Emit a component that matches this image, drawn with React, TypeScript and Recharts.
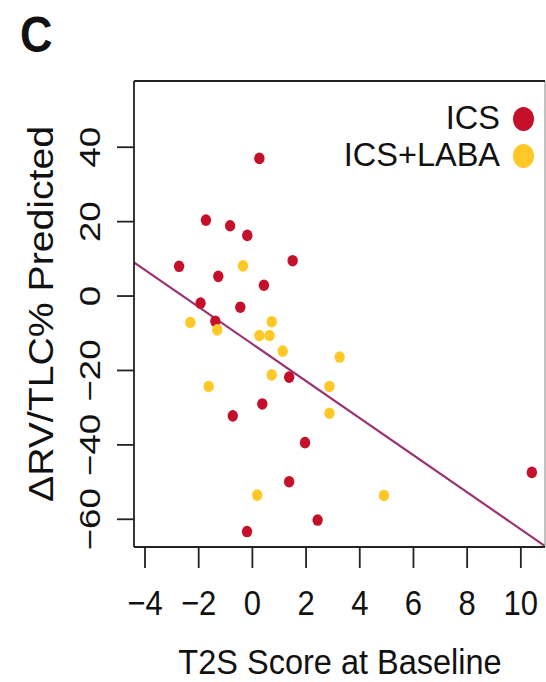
import React from 'react';
import {
  ScatterChart,
  Scatter,
  XAxis,
  YAxis,
  ReferenceLine,
  Legend,
} from 'recharts';

// T2S score at baseline vs change in RV/TLC % predicted
const icsX = [0.26, -1.73, -0.83, -0.19, -2.73, 1.5, -1.27, 0.43, -1.93, -0.45, -1.38, 1.37, 0.37, -0.73, 1.96, 1.37, 2.43, -0.2, 10.41];
const icsY = [37.0, 20.4, 18.9, 16.3, 8.0, 9.5, 5.3, 2.9, -1.9, -3.0, -6.8, -21.8, -29.0, -32.2, -39.4, -49.9, -60.2, -63.3, -47.4];

const labaX = [-0.35, -2.31, -1.31, 0.72, 0.26, 0.64, 1.13, 3.25, 0.72, -1.63, 2.87, 2.87, 0.18, 4.9];
const labaY = [8.1, -7.1, -9.1, -6.9, -10.6, -10.6, -14.8, -16.4, -21.2, -24.3, -24.3, -31.5, -53.5, -53.6];

const xTicks = [-4, -2, 0, 2, 4, 6, 8, 10];
const yTicks = [-60, -40, -20, 0, 20, 40];

// fitted regression line
const fitIntercept = -12.9;
const fitSlope = -4.98;

const xDomain: [number, number] = [-4.41, 10.9];
const yDomain: [number, number] = [-67.45, 57.8];

const icsData = icsX.map((x, i) => ({ x, y: icsY[i] }));
const labaData = labaX.map((x, i) => ({ x, y: labaY[i] }));

const RED = '#C5102A';
const YELLOW = '#FFC826';
const FONT = '"Liberation Sans", Arial, sans-serif';

const fmt = (v: number) => (v < 0 ? `\u2212${Math.abs(v)}` : `${v}`);

const YTick = ({ x, y, payload }: any) => (
  <text
    transform={`translate(${x},${y}) scale(1,1.22) rotate(-90)`}
    textAnchor="middle"
    fontSize={30}
    fontFamily={FONT}
    fill="#111"
  >
    {fmt(payload.value)}
  </text>
);

const XTick = ({ x, y, payload }: any) => (
  <text
    transform={`translate(${x},${y}) scale(1,1.12)`}
    textAnchor="middle"
    fontSize={31}
    fontFamily={FONT}
    fill="#111"
  >
    {fmt(payload.value)}
  </text>
);

const Dot = (color: string) => (p: any) => (
  <ellipse cx={p.cx} cy={p.cy} rx={5.2} ry={5.8} fill={color} />
);

const LegendBox = ({ payload }: any) => (
  <div style={{ fontFamily: FONT }}>
    {(payload || []).map((e: any) => (
      <div
        key={e.value}
        style={{ display: 'flex', alignItems: 'center', justifyContent: 'flex-end', height: 37 }}
      >
        <span style={{ fontSize: 32.5, lineHeight: '37px', color: '#111' }}>{e.value}</span>
        <span
          style={{
            display: 'inline-block',
            width: 21,
            height: 24,
            borderRadius: '50%',
            background: e.color,
            marginLeft: 13,
          }}
        />
      </div>
    ))}
  </div>
);

export default function App() {
  const left = xDomain[0];
  const right = xDomain[1];
  return (
    <div style={{ position: 'absolute', left: 0, top: 0, width: 546, height: 682, background: '#fff' }}>
      <ScatterChart width={546} height={682} margin={{ top: 81, right: 1, bottom: 0, left: 0 }}>
        <XAxis
          type="number"
          dataKey="x"
          domain={xDomain}
          ticks={xTicks}
          allowDataOverflow
          height={135}
          axisLine={false}
          tickSize={21}
          tickMargin={47}
          tickLine={{ stroke: '#222', strokeWidth: 1.8 }}
          tick={<XTick />}
          interval={0}
        />
        <YAxis
          type="number"
          dataKey="y"
          domain={yDomain}
          ticks={yTicks}
          allowDataOverflow
          width={134}
          axisLine={false}
          tickSize={17}
          tickMargin={17}
          tickLine={{ stroke: '#222', strokeWidth: 1.8 }}
          tick={<YTick />}
          interval={0}
        />
        <Scatter name="ICS" data={icsData} fill={RED} shape={Dot(RED)} isAnimationActive={false} />
        <Scatter name="ICS+LABA" data={labaData} fill={YELLOW} shape={Dot(YELLOW)} isAnimationActive={false} />
        <ReferenceLine
          segment={[
            { x: left, y: fitIntercept + fitSlope * left },
            { x: right, y: fitIntercept + fitSlope * right },
          ]}
          stroke="#9B3372"
          strokeWidth={2.2}
          ifOverflow="hidden"
        />
        <ReferenceLine x={left} stroke="#222" strokeWidth={1.8} />
        <ReferenceLine x={right} stroke="#999" strokeWidth={1.2} />
        <ReferenceLine y={yDomain[0]} stroke="#222" strokeWidth={1.8} />
        <ReferenceLine y={yDomain[1]} stroke="#222" strokeWidth={1.8} />
        <Legend
          layout="vertical"
          align="center"
          verticalAlign="middle"
          content={<LegendBox />}
          wrapperStyle={{ top: 100, right: 12, left: 'auto', width: 'auto' }}
        />
        <text
          transform="translate(20,52) scale(1,1.1)"
          fontSize={45}
          fontWeight="bold"
          fontFamily={FONT}
          fill="#111"
        >
          C
        </text>
        <text
          transform="translate(340,674) scale(1,1.1)"
          textAnchor="middle"
          fontSize={32.5}
          fontFamily={FONT}
          fill="#111"
        >
          T2S Score at Baseline
        </text>
        <text
          transform="translate(53,314) scale(1,1.12) rotate(-90)"
          textAnchor="middle"
          fontSize={35}
          fontFamily={FONT}
          fill="#111"
        >
          ΔRV/TLC% Predicted
        </text>
      </ScatterChart>
    </div>
  );
}
